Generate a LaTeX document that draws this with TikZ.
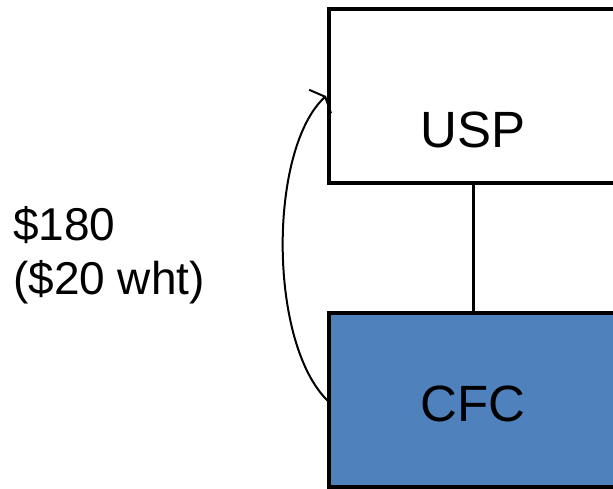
\documentclass[tikz,border=0pt]{standalone}
\usepackage{fontspec}
\setmainfont{Liberation Sans}
\usetikzlibrary{arrows.meta}
\definecolor{cfcblue}{RGB}{79,129,189}
\begin{document}
\begin{tikzpicture}[x=1pt,y=-1pt,
  entity/.style={draw=black, line width=3.4pt, minimum width=288pt, minimum height=174pt, inner sep=0pt, outer sep=0pt},
  boxlabel/.style={font=\fontsize{51}{61}\selectfont, inner sep=0pt, anchor=base},
  flowlabel/.style={font=\fontsize{46}{54}\selectfont, inner sep=0pt, align=left, anchor=base west},
  link/.style={line width=3pt},
  flow/.style={line width=2pt, -{Straight Barb[length=7pt, width=32pt, line width=2pt]}}]
\useasboundingbox (0,0) rectangle (613,489);
\clip (0,0) rectangle (613,489);
\fill[white] (0,0) rectangle (613,489);
\node[entity, fill=white] (usp) at (473,96) {};
\node[entity, fill=cfcblue] (cfc) at (473,400) {};
\node[boxlabel] (usptext) at (473,148) {USP};
\node[boxlabel] (cfctext) at (473,421) {CFC};
\draw[link] (usp.south) -- (cfc.south |- cfc.north);
\coordinate (tip) at (326,96);
\draw[flow] ([yshift=-2pt]cfc.west) .. controls (268,345) and (268,150) .. (tip);
\node[flowlabel] (amount) at (13,294) {\$180\\(\$20 wht)};
\end{tikzpicture}
\end{document}
